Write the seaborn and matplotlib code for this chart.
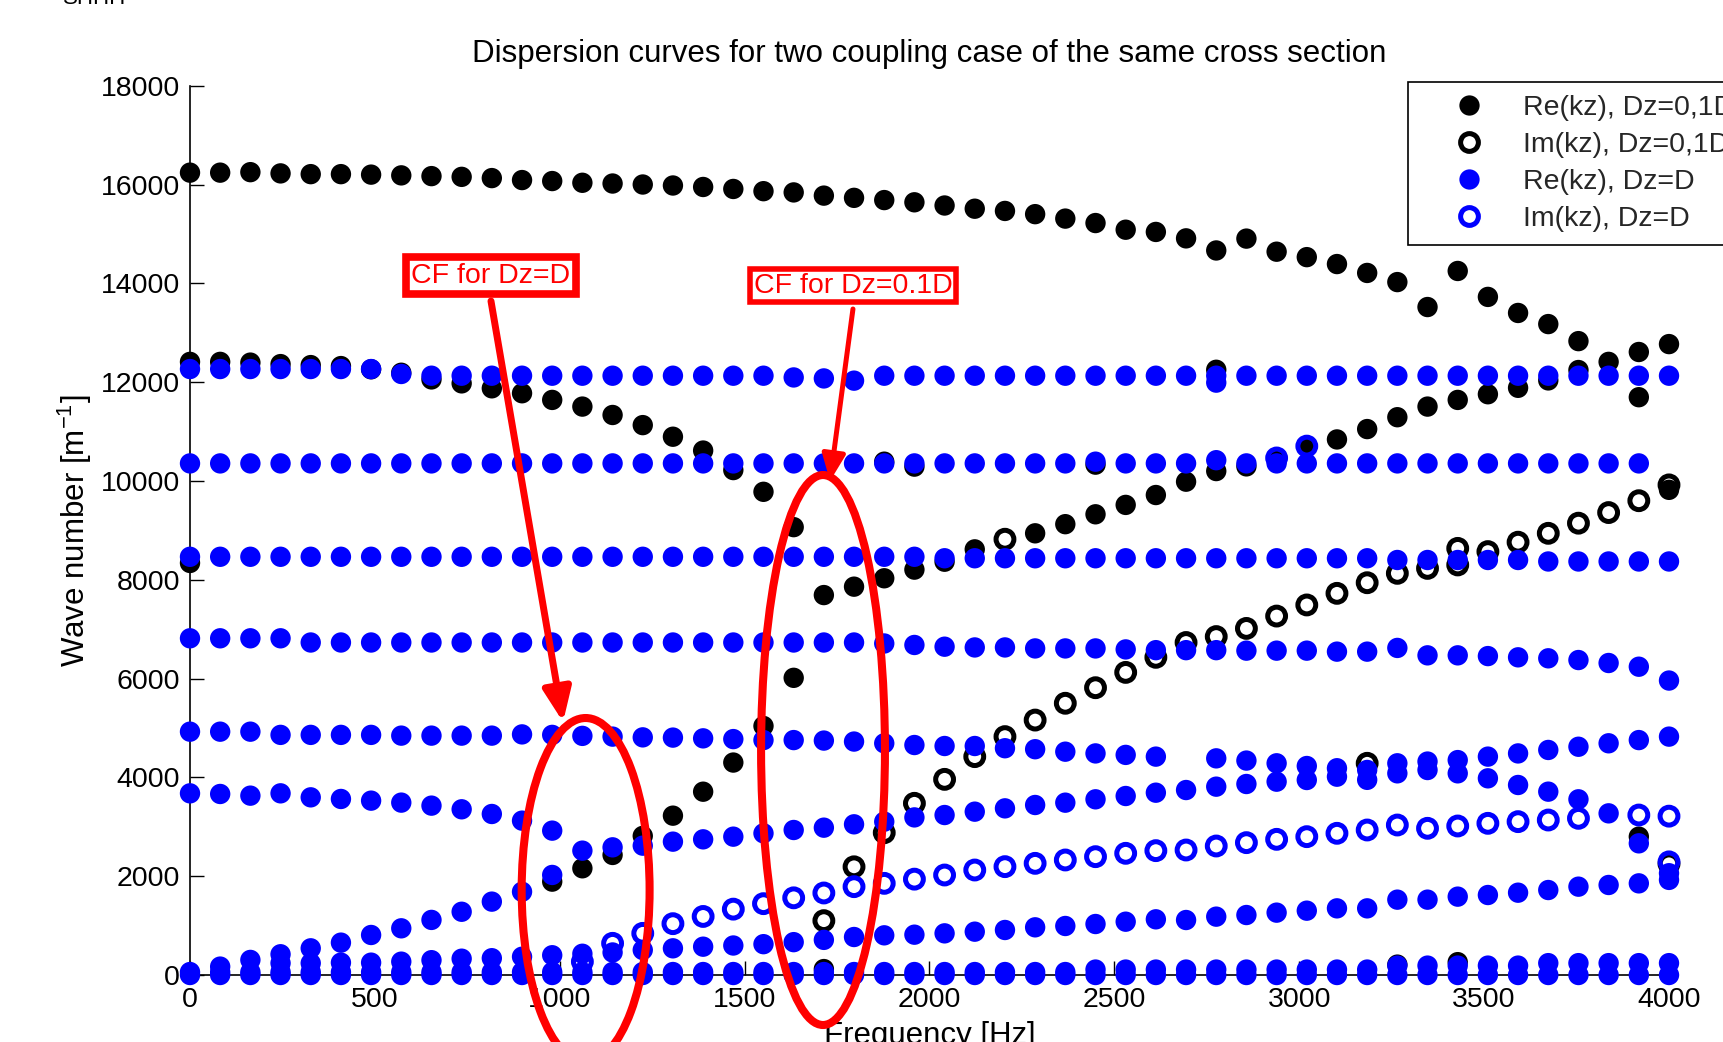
import numpy as np
import pandas as pd
import matplotlib
matplotlib.use("Agg")
import matplotlib.pyplot as plt
import seaborn as sns
from matplotlib.patches import Ellipse
from matplotlib.lines import Line2D
from matplotlib.patches import ArrowStyle

nan = np.nan

# Frequency grid [Hz]
freq_hz = [0.0, 81.6, 163.3, 244.9, 326.5, 408.2, 489.8, 571.4, 653.1, 734.7,
           816.3, 898.0, 979.6, 1061.2, 1142.9, 1224.5, 1306.1, 1387.8, 1469.4, 1551.0,
           1632.7, 1714.3, 1795.9, 1877.6, 1959.2, 2040.8, 2122.4, 2204.1, 2285.7, 2367.3,
           2449.0, 2530.6, 2612.2, 2693.9, 2775.5, 2857.1, 2938.8, 3020.4, 3102.0, 3183.7,
           3265.3, 3346.9, 3428.6, 3510.2, 3591.8, 3673.5, 3755.1, 3836.7, 3918.4, 4000.0]

# ---- Re(kz), Dz = 0.1D ----
re_fine_top = [16240, 16240, 16250, 16225, 16210, 16210, 16200, 16185, 16170, 16155,
               16130, 16090, 16070, 16035, 16020, 16000, 15980, 15950, 15910, 15865,
               15840, 15775, 15730, 15685, 15640, 15575, 15510, 15465, 15400, 15310,
               15220, 15085, 15040, 14910, 14665, 14905, 14640, 14530, 14390, 14210,
               14025, 13520, 14250, 13725, 13400, 13175, 12830, 12410, 12610, 12770]
re_fine_mid = [12410, 12410, 12395, 12365, 12345, 12325, 12260, 12190, 12055, 11975,
               11875, 11775, 11640, 11505, 11335, 11130, 10895, 10615, 10220, 9780,
               9065, 7690, 7860, 8030, 8205, 8365, 8615, nan, 8940, 9125,
               9325, 9515, 9715, 9985, 10200, 10295, 10460, 10705, 10840, 11050,
               11290, 11505, 11640, 11755, 11885, 12035, 12245, nan, 11695, nan]
re_fine_low = [nan, nan, nan, nan, nan, nan, nan, nan, nan, nan,
               nan, nan, 1890, 2160, 2430, 2815, 3225, 3710, 4300, 5040,
               6015, nan, nan, nan, nan, nan, nan, nan, nan, nan,
               nan, nan, nan, nan, nan, nan, nan, nan, nan, nan,
               nan, nan, nan, nan, nan, nan, nan, nan, nan, nan]
re_fine_extra = [8340, nan, nan, nan, nan, nan, nan, nan, nan, nan,
                 nan, nan, nan, nan, nan, nan, nan, nan, nan, nan,
                 nan, 120, nan, 10390, 10290, nan, nan, nan, nan, nan,
                 10330, nan, nan, nan, 12250, nan, nan, nan, nan, nan,
                 210, nan, 260, nan, nan, nan, nan, nan, 2800, 9820]

# ---- Im(kz), Dz = 0.1D ----
im_fine_a = [nan, nan, nan, nan, nan, nan, nan, nan, nan, nan,
             nan, nan, nan, nan, nan, nan, nan, nan, nan, nan,
             nan, 1100, 2190, 2880, 3475, 3960, 4420, 4825, 5160, 5500,
             5815, 6125, 6430, 6730, 6850, 7015, 7265, 7490, 7725, 7940,
             8130, 8230, 8300, 8570, 8760, 8940, 9145, 9360, 9600, 9920]
im_fine_b = [nan, nan, nan, nan, nan, nan, nan, nan, nan, nan,
             nan, nan, nan, nan, nan, nan, nan, nan, nan, nan,
             nan, nan, nan, nan, nan, nan, nan, 8820, nan, nan,
             nan, nan, nan, nan, nan, nan, nan, nan, nan, 4285,
             nan, nan, 8635, nan, nan, nan, nan, nan, nan, 2250]

# ---- Re(kz), Dz = D ----
re_coarse_r1 = [12265, 12265, 12265, 12265, 12265, 12265, 12265, 12165, 12130, 12130,
                12130, 12130, 12130, 12130, 12130, 12130, 12130, 12130, 12130, 12130,
                12095, 12075, 12030, 12130, 12130, 12130, 12130, 12130, 12130, 12130,
                12130, 12130, 12130, 12130, 12130, 12130, 12130, 12130, 12130, 12130,
                12130, 12130, 12130, 12130, 12130, 12130, 12130, 12130, 12130, 12130]
re_coarse_r2 = [10355, 10355, 10355, 10355, 10355, 10355, 10355, 10355, 10355, 10355,
                10355, 10355, 10355, 10355, 10355, 10355, 10355, 10355, 10355, 10355,
                10355, 10355, 10355, 10355, 10355, 10355, 10355, 10355, 10355, 10355,
                10390, 10355, 10355, 10355, 10420, 10355, 10355, 10355, 10355, 10355,
                10355, 10355, 10355, 10355, 10355, 10355, 10355, 10355, 10355, nan]
re_coarse_r3 = [8465, 8465, 8465, 8465, 8465, 8465, 8465, 8465, 8465, 8465,
                8465, 8465, 8465, 8465, 8465, 8465, 8465, 8465, 8465, 8465,
                8465, 8465, 8465, 8465, 8465, 8435, 8435, 8435, 8435, 8435,
                8435, 8435, 8435, 8435, 8435, 8435, 8435, 8435, 8435, 8435,
                8400, 8400, 8400, 8400, 8400, 8370, 8370, 8370, 8370, 8370]
re_coarse_r4 = [6815, 6815, 6815, 6815, 6730, 6730, 6730, 6730, 6730, 6730,
                6730, 6730, 6730, 6730, 6730, 6730, 6730, 6730, 6730, 6730,
                6730, 6730, 6730, 6710, 6680, 6645, 6630, 6630, 6610, 6610,
                6610, 6590, 6575, 6575, 6575, 6565, 6565, 6565, 6545, 6545,
                6620, 6470, 6470, 6455, 6430, 6410, 6375, 6315, 6240, 5960]
re_coarse_r5 = [4925, 4925, 4925, 4860, 4860, 4860, 4860, 4845, 4845, 4845,
                4845, 4870, 4860, 4840, 4825, 4810, 4805, 4790, 4775, 4755,
                4755, 4745, 4725, 4690, 4655, 4635, 4635, 4590, 4570, 4520,
                4485, 4455, 4420, nan, 4385, 4340, 4285, 4230, 4185, 4150,
                4285, 4320, 4350, 4420, 4485, 4555, 4620, 4690, 4755, 4825]
re_coarse_r6 = [3677, 3664, 3630, 3677, 3596, 3563, 3529, 3489, 3428, 3354,
                3259, 3124, 2922, 2517, 2584, 2618, 2699, 2746, 2800, 2868,
                2935, 2982, 3050, 3104, 3190, 3238, 3306, 3373, 3441, 3488,
                3556, 3623, 3690, 3744, 3812, 3866, 3913, 3947, 4014, 3950,
                4082, 4149, 4082, 3981, 3846, 3711, 3556, 3272, 2665, 2060]
re_coarse_r7 = [nan, nan, 305, 420, 540, 655, 810, 945, 1115, 1280,
                1485, 1685, 2025, nan, nan, nan, nan, nan, nan, nan,
                nan, nan, nan, nan, nan, nan, nan, nan, nan, nan,
                nan, nan, nan, nan, nan, nan, nan, nan, nan, nan,
                nan, nan, nan, nan, nan, nan, nan, nan, nan, nan]
re_coarse_r8 = [nan, 170, nan, 240, 240, 250, 250, 270, 300, 330,
                340, 370, 400, 430, 456, 506, 540, 573, 597, 624,
                665, 711, 769, 803, 816, 843, 877, 911, 965, 992,
                1032, 1079, 1127, 1113, 1181, 1214, 1262, 1302, 1349, 1349,
                1525, 1525, 1586, 1619, 1666, 1720, 1788, 1822, 1855, 1925]
re_coarse_z0 = [0] * 50
re_coarse_z1 = [60, 60, 60, 60, 60, 60, 60, 60, 60, 60,
                60, 60, 60, 60, 60, 60, 60, 60, 60, 60,
                60, 60, 60, 60, 60, 60, 60, 60, 60, 60,
                110, 110, 110, 110, 110, 110, 110, 110, 110, 110,
                190, 190, 190, 190, 190, 240, 240, 240, 240, 240]
re_coarse_extra = [nan, nan, nan, nan, nan, nan, nan, nan, nan, nan,
                   nan, nan, nan, nan, nan, nan, nan, nan, nan, nan,
                   nan, nan, nan, nan, nan, nan, nan, nan, nan, nan,
                   nan, nan, nan, nan, 11990, nan, nan, nan, nan, nan,
                   nan, nan, nan, nan, nan, nan, nan, nan, nan, nan]

# ---- Im(kz), Dz = D ----
im_coarse_a = [nan, nan, nan, nan, nan, nan, nan, nan, nan, nan,
               nan, nan, nan, 270, 641, 843, 1039, 1185, 1333, 1444,
               1562, 1660, 1788, 1855, 1940, 2024, 2125, 2193, 2260, 2328,
               2395, 2463, 2517, 2530, 2611, 2679, 2746, 2800, 2868, 2935,
               3036, 2969, 3016, 3070, 3104, 3137, 3171, nan, 3238, 3215]
im_coarse_b = [nan, nan, nan, nan, nan, nan, nan, nan, nan, nan,
               nan, nan, nan, nan, nan, nan, nan, nan, nan, nan,
               nan, nan, nan, nan, nan, nan, nan, nan, nan, nan,
               nan, nan, nan, nan, nan, nan, 10465, 10705, nan, nan,
               nan, nan, nan, nan, nan, nan, nan, nan, nan, 2290]


def branches_to_frame(branches):
    parts = [pd.DataFrame({"freq": freq_hz, "k": b}) for b in branches]
    return pd.concat(parts, ignore_index=True).dropna()


re_fine = branches_to_frame([re_fine_top, re_fine_mid, re_fine_low, re_fine_extra])
im_fine = branches_to_frame([im_fine_a, im_fine_b])
re_coarse = branches_to_frame([re_coarse_r1, re_coarse_r2, re_coarse_r3, re_coarse_r4,
                               re_coarse_r5, re_coarse_r6, re_coarse_r7, re_coarse_r8,
                               re_coarse_z0, re_coarse_z1, re_coarse_extra])
im_coarse = branches_to_frame([im_coarse_a, im_coarse_b])

# ---- style ----
sns.set_theme(style="white")
plt.rcParams["font.family"] = ["Liberation Sans", "DejaVu Sans"]
plt.rcParams["mathtext.fontset"] = "custom"
plt.rcParams["mathtext.rm"] = "Liberation Sans"
plt.rcParams["mathtext.it"] = "Liberation Sans:italic"
plt.rcParams["mathtext.bf"] = "Liberation Sans:bold"

FS = 20.5        # ticks, legend, annotations
FS_LABEL = 22.5  # title and axis labels
W, H = 1724, 1042
fig = plt.figure(figsize=(W / 100, H / 100), dpi=100)
ax_left, ax_right, ax_top, ax_bottom = 190, 1669, 85.7, 975
ax = fig.add_axes([ax_left / W, 1 - ax_bottom / H,
                   (ax_right - ax_left) / W, (ax_bottom - ax_top) / H])

FILLED_S = 215
OPEN_S = 165
OPEN_LW = 3.6

sns.scatterplot(data=re_fine, x="freq", y="k", ax=ax, s=FILLED_S, color="black",
                edgecolor="none", linewidth=0, clip_on=False, legend=False, zorder=3)
sns.scatterplot(data=im_fine, x="freq", y="k", ax=ax, s=OPEN_S, facecolor="none",
                edgecolor="black", linewidth=OPEN_LW, clip_on=False, legend=False, zorder=3)
sns.scatterplot(data=re_coarse, x="freq", y="k", ax=ax, s=FILLED_S, color="#0000ff",
                edgecolor="none", linewidth=0, clip_on=False, legend=False, zorder=3)
sns.scatterplot(data=im_coarse, x="freq", y="k", ax=ax, s=OPEN_S, facecolor="none",
                edgecolor="#0000ff", linewidth=OPEN_LW, clip_on=False, legend=False, zorder=3)

ax.set_xlim(0, 4000)
ax.set_ylim(0, 18000)
ax.set_xticks(np.arange(0, 4001, 500))
ax.set_yticks(np.arange(0, 18001, 2000))
ax.tick_params(axis="both", direction="in", length=10, width=1.0, colors="black",
               labelsize=FS, top=False, right=False, bottom=True, left=True)
ax.tick_params(axis="x", pad=8.3)
ax.tick_params(axis="y", pad=7.2)
for side in ("top", "right"):
    ax.spines[side].set_visible(False)
for side in ("left", "bottom"):
    ax.spines[side].set_color("black")
    ax.spines[side].set_linewidth(1.2)
ax.grid(False)

ax.set_title("Dispersion curves for two coupling case of the same cross section",
             fontsize=FS_LABEL, pad=17.3, color="black")
ax.set_xlabel("Frequency [Hz]", fontsize=FS_LABEL, color="black")
ax.xaxis.set_label_coords(0.5, -0.052)
ax.set_ylabel("Wave number [m$^{-1}$]", fontsize=FS_LABEL, color="black")
ax.yaxis.set_label_coords(-0.0652, 0.5)

# legend
handles = [
    Line2D([], [], linestyle="none", marker="o", markersize=14.6,
           markerfacecolor="black", markeredgecolor="black", markeredgewidth=0),
    Line2D([], [], linestyle="none", marker="o", markersize=12.8,
           markerfacecolor="none", markeredgecolor="black", markeredgewidth=OPEN_LW),
    Line2D([], [], linestyle="none", marker="o", markersize=14.6,
           markerfacecolor="#0000ff", markeredgecolor="#0000ff", markeredgewidth=0),
    Line2D([], [], linestyle="none", marker="o", markersize=12.8,
           markerfacecolor="none", markeredgecolor="#0000ff", markeredgewidth=OPEN_LW),
]
labels = ["Re(kz), Dz=0,1D", "Im(kz), Dz=0,1D", "Re(kz), Dz=D", "Im(kz), Dz=D"]
leg = ax.legend(handles, labels, loc="upper left",
                bbox_to_anchor=(1407.7 / W, 1 - 82.3 / H), bbox_transform=fig.transFigure,
                borderaxespad=0, frameon=True, fancybox=False, framealpha=1,
                edgecolor="black", facecolor="white", fontsize=FS,
                borderpad=0.44, labelspacing=0.39, handlelength=3.4,
                handletextpad=0.2, numpoints=1)
leg.get_frame().set_linewidth(1.2)
leg.set_zorder(10)

# annotations marking the coupling frequencies
RED = "#ff0000"
ax.text(814, 14158, "CF for Dz=D", color=RED, fontsize=FS, ha="center", va="center",
        zorder=8, bbox=dict(boxstyle="square,pad=0.2", fc="white", ec=RED, lw=5.5))
ax.text(1793, 13955, "CF for Dz=0.1D", color=RED, fontsize=FS, ha="center", va="center",
        zorder=8, bbox=dict(boxstyle="square,pad=0.12", fc="white", ec=RED, lw=4.0))

ax.annotate("", xy=(1009, 5121), xytext=(814, 13642), zorder=7,
            arrowprops=dict(arrowstyle=ArrowStyle("-|>", head_length=20, head_width=8.5),
                            color=RED, lw=5.0, shrinkA=0, shrinkB=0, mutation_scale=1))
ax.annotate("", xy=(1731, 9999), xytext=(1793, 13480), zorder=7,
            arrowprops=dict(arrowstyle=ArrowStyle("-|>", head_length=16, head_width=7),
                            color=RED, lw=3.6, shrinkA=0, shrinkB=0, mutation_scale=1))

ax.add_patch(Ellipse((1070, 1720), width=346, height=6963, fill=False, ec=RED, lw=5.8,
                     clip_on=False, zorder=7))
ax.add_patch(Ellipse((1712, 4554), width=335, height=11132, fill=False, ec=RED, lw=5.8,
                     clip_on=False, zorder=7))

# clipped heading remnant at the very top edge
fig.text(63 / W, 1 - 4 / H, "SHHH", fontsize=16, ha="left", va="baseline", color="black")

fig.savefig("out.png", dpi=100, facecolor="white")
